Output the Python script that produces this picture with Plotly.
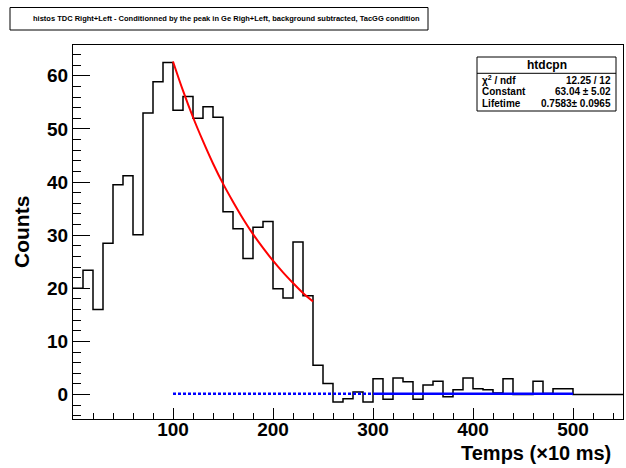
import plotly.graph_objects as go

# histogram: lower bin edges (width 10) and contents
bin_edges = list(range(0, 550, 10))
counts = [
    20.0, 23.4, 16.0, 28.5, 39.5, 41.2, 30.1, 53.0, 58.9, 62.5,
    53.5, 56.1, 52.0, 54.2, 52.2, 34.4, 31.2, 25.6, 31.5, 32.6,
    19.9, 18.2, 28.7, 18.6, 5.5, 2.07, -1.4, -0.8, 0.5, -1.4,
    3.0, -0.9, 3.1, 2.4, -0.9, 1.8, 2.5, -0.4, 0.9, 3.1,
    1.1, 0.9, 0.3, 3.0, 0.0, 0.0, 2.5, 0.2, 1.1, 1.1,
    0.0, 0.0, 0.0, 0.0, 0.0,
]
bin_width = 10

# exponential fit curve
fit_x = [100, 110, 120, 130, 140, 150, 160, 170, 180, 190, 200, 210, 220, 230, 240]
fit_y = [62.7, 57.2, 52.2, 47.7, 43.5, 39.7, 36.3, 33.1, 30.2, 27.6, 25.2, 23.0, 21.0, 19.1, 17.5]

# background level
bkg_dot_x = [100, 300]
bkg_solid_x = [300, 500]
bkg_level = 0.15

x_ticks = [100, 200, 300, 400, 500]
y_ticks = [0, 10, 20, 30, 40, 50, 60]

title = ("histos TDC Right+Left - Conditionned by the peak in Ge Righ+Left, "
         "background subtracted, TacGG condition")
stats_name = "htdcpn"
stats_rows = [
    ("\u03c7<sup>2</sup> / ndf", "12.25 / 12"),
    ("Constant", "63.04 \u00b1 5.02"),
    ("Lifetime", "0.7583\u00b1 0.0965"),
]

W, H = 626, 468
ML, MR, MT, MB = 73, 3, 45, 49
PW, PH = W - ML - MR, H - MT - MB
FONT = "Liberation Sans, Arial, sans-serif"


def px_x(p):
    return (p - ML) / PW


def px_y(p):
    return (H - MB - p) / PH


fig = go.Figure()

step_x = bin_edges + [bin_edges[-1] + bin_width]
step_y = counts + [counts[-1]]
fig.add_trace(go.Scatter(x=step_x, y=step_y, mode="lines", line_shape="hv",
                         line=dict(color="black", width=1.5), showlegend=False))

fig.add_trace(go.Scatter(x=bkg_dot_x, y=[bkg_level] * 2, mode="lines",
                         line=dict(color="#0000ff", width=2.5, dash="3px,2px"),
                         showlegend=False))
fig.add_trace(go.Scatter(x=bkg_solid_x, y=[bkg_level] * 2, mode="lines",
                         line=dict(color="#0000ff", width=2.5), showlegend=False))

fig.add_trace(go.Scatter(x=fit_x, y=fit_y, mode="lines", line_shape="spline",
                         line=dict(color="#ff0000", width=2), showlegend=False))

axis_common = dict(showline=True, mirror=True, linecolor="black", linewidth=1,
                   showgrid=False, zeroline=False, ticks="inside", tickcolor="black",
                   tickwidth=1,
                   tickfont=dict(family=FONT, size=19, color="black", weight="bold"))

fig.update_xaxes(range=[0, 550], tickmode="array", tickvals=x_ticks, ticklen=11,
                 ticklabelstandoff=-7,
                 minor=dict(ticks="inside", dtick=20, tick0=0, ticklen=6,
                            tickcolor="black", tickwidth=1),
                 **axis_common)
fig.update_yaxes(range=[-4.6, 65.8], tickmode="array", tickvals=y_ticks, ticklen=17,
                 minor=dict(ticks="inside", dtick=2, tick0=0, ticklen=8,
                            tickcolor="black", tickwidth=1),
                 **axis_common)

shapes = [
    # title box
    dict(type="rect", xref="paper", yref="paper",
         x0=px_x(10), x1=px_x(428), y0=px_y(30), y1=px_y(7.5),
         line=dict(color="black", width=1), fillcolor="white", layer="above"),
    # stats box
    dict(type="rect", xref="paper", yref="paper",
         x0=px_x(477), x1=px_x(616), y0=px_y(111), y1=px_y(57),
         line=dict(color="black", width=1), fillcolor="white", layer="above"),
    dict(type="line", xref="paper", yref="paper",
         x0=px_x(477), x1=px_x(616), y0=px_y(73.3), y1=px_y(73.3),
         line=dict(color="black", width=1), layer="above"),
]

annotations = [
    dict(text="<b>" + title + "</b>", x=px_x(226), y=px_y(19),
         font=dict(family=FONT, size=7.5, color="black")),
    dict(text="<b>" + stats_name + "</b>", x=px_x(546.5), y=px_y(64.5),
         font=dict(family=FONT, size=12, color="black")),
    dict(text="<b>Counts</b>", x=px_x(21), y=px_y(232), textangle=-90,
         font=dict(family=FONT, size=21, color="black")),
    dict(text="<b>Temps (\u00d710 ms)</b>", x=px_x(613), y=px_y(453), xanchor="right",
         font=dict(family=FONT, size=20, color="black")),
]
row_y = [80, 91.7, 103.3]
for (lab, val), yy in zip(stats_rows, row_y):
    annotations.append(dict(text="<b>" + lab + "</b>", x=px_x(480), y=px_y(yy),
                            xanchor="left", font=dict(family=FONT, size=10, color="black")))
    annotations.append(dict(text="<b>" + val + "</b>", x=px_x(613), y=px_y(yy),
                            xanchor="right", font=dict(family=FONT, size=10, color="black")))

for a in annotations:
    a.update(xref="paper", yref="paper", showarrow=False)
    a.setdefault("xanchor", "center")
    a.setdefault("yanchor", "middle")

fig.update_layout(width=W, height=H, autosize=False,
                  margin=dict(l=ML, r=MR, t=MT, b=MB),
                  paper_bgcolor="white", plot_bgcolor="white",
                  shapes=shapes, annotations=annotations, showlegend=False)

# the page's default body margin would shift the figure by 8px
fig.write_html("out.html", config={"displayModeBar": False},
               post_script="document.body.style.margin='0';")
